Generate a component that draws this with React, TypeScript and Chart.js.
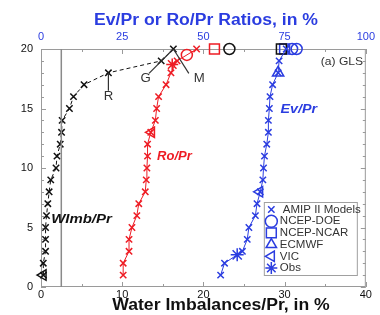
import React, { useEffect, useRef } from 'react';
import { Chart, registerables } from 'chart.js';

Chart.register(...registerables);

// ---- data ----
const levels = [1, 2, 3, 4, 5, 6, 7, 8, 9, 10, 11, 12, 13, 14, 15, 16, 17, 18, 19, 20];
// Water imbalance / Pr (bottom axis, %)
const wimbModels = [0.3, 0.28, 0.56, 0.56, 0.56, 0.68, 0.84, 1.0, 1.2, 1.85, 1.97, 2.37, 2.53, 2.6, 3.5, 4.0, 5.3, 8.3, 14.8, 16.3];
// Runoff / Pr (top axis, %)
const roModels = [25.3, 25.3, 27.1, 27.1, 28.0, 29.5, 30.1, 32.1, 32.4, 32.6, 32.8, 32.8, 33.8, 35.2, 35.6, 36.2, 38.5, 40.0, 41.9, 47.9];
// Evaporation / Pr (top axis, %)
const evModels = [55.3, 56.5, 62.0, 63.5, 64.0, 66.0, 66.5, 67.5, 68.3, 68.5, 68.8, 69.5, 70.0, 70.0, 70.3, 70.5, 71.3, 73.0, 73.3, 75.5];

// reanalyses / obs markers  [x, y]
const wimbNcepDoe = [[23.2, 20]];
const wimbNcepNcar = [[29.6, 20]];
const wimbVic = [[0.25, 1]];
const roNcepDoe = [[44.9, 19.5]];
const roNcepNcar = [[53.4, 20]];
const roVic = [[34.0, 13]];
const roObs = [[40.4, 18.7]];
const evNcepDoe = [[77.3, 20], [78.7, 20]];
const evNcepNcar = [[75.0, 20]];
const evEcmwf = [[73.0, 18]];
const evVic = [[67.3, 8]];
const evObs = [[60.4, 2.7]];

const xTicksBottom = [0, 10, 20, 30, 40];
const xTicksTop = [0, 25, 50, 75, 100];
const yTicks = [0, 5, 10, 15, 20];

const legendLabels = ['AMIP II Models', 'NCEP-DOE', 'NCEP-NCAR', 'ECMWF', 'VIC', 'Obs'];
const legendStyles = ['crossRot', 'circle', 'rect', 'triangle', 'triangleLeft', 'star'];

const bottomTitle = 'Water Imbalances/Pr, in %';
const topTitle = 'Ev/Pr or Ro/Pr Ratios, in %';

const FONT = '"Liberation Sans", Arial, Helvetica, sans-serif';
const BLUE = '#2b3de0';
const RED = '#ee1c24';
const BLACK = '#111111';
const GRAY = '#9a9a9a';
const SX = 1.1; // horizontal stretch of the original figure's lettering

const pts = (arr: number[][]) => arr.map(([x, y]) => ({ x, y }));

function drawMarker(ctx: CanvasRenderingContext2D, style: string, x: number, y: number, r: number, color: string) {
  ctx.save();
  ctx.strokeStyle = color;
  ctx.lineWidth = 1.5;
  ctx.translate(x, y);
  ctx.beginPath();
  if (style === 'crossRot') {
    const d = r * 0.707;
    ctx.moveTo(-d, -d); ctx.lineTo(d, d); ctx.moveTo(-d, d); ctx.lineTo(d, -d);
  } else if (style === 'circle') {
    ctx.arc(0, 0, r, 0, Math.PI * 2);
  } else if (style === 'rect') {
    const s = r * 0.707;
    ctx.rect(-s, -s, 2 * s, 2 * s);
  } else if (style === 'triangle' || style === 'triangleLeft') {
    if (style === 'triangleLeft') ctx.rotate(-Math.PI / 2);
    ctx.moveTo(0, -r); ctx.lineTo(r * 0.866, r * 0.5); ctx.lineTo(-r * 0.866, r * 0.5); ctx.closePath();
  } else if (style === 'star') {
    const d = r * 0.707;
    ctx.moveTo(-r, 0); ctx.lineTo(r, 0); ctx.moveTo(0, -r); ctx.lineTo(0, r);
    ctx.moveTo(-d, -d); ctx.lineTo(d, d); ctx.moveTo(-d, d); ctx.lineTo(d, -d);
  }
  ctx.stroke();
  ctx.restore();
}

function stretchedText(ctx: CanvasRenderingContext2D, text: string, x: number, y: number, align: CanvasTextAlign, sx = SX) {
  ctx.save();
  ctx.translate(x, y);
  ctx.scale(sx, 1);
  ctx.textAlign = align;
  ctx.textBaseline = 'middle';
  ctx.fillText(text, 0, 0);
  ctx.restore();
}

const framePlugin = {
  id: 'frameAndNotes',
  beforeDatasetsDraw(chart: any) {
    const { ctx, chartArea: a, scales } = chart;
    ctx.save();
    ctx.strokeStyle = GRAY;
    ctx.lineWidth = 1;
    ctx.strokeRect(a.left + 0.5, a.top + 0.5, a.right - a.left - 1, a.bottom - a.top - 1);
    for (let v = 0; v <= 20; v++) {
      const py = Math.round(scales.y.getPixelForValue(v)) + 0.5;
      const len = v % 5 === 0 ? 5 : 3;
      ctx.beginPath();
      ctx.moveTo(a.left, py); ctx.lineTo(a.left + len, py);
      ctx.moveTo(a.right, py); ctx.lineTo(a.right - len, py);
      ctx.stroke();
    }
    for (let v = 0; v <= 40; v += 5) {
      const px = Math.round(scales.x.getPixelForValue(v)) + 0.5;
      const len = v % 10 === 0 ? 5 : 3;
      ctx.beginPath();
      ctx.moveTo(px, a.bottom); ctx.lineTo(px, a.bottom - len);
      ctx.moveTo(px, a.top); ctx.lineTo(px, a.top + len);
      ctx.stroke();
    }
    ctx.restore();
  },
  afterDatasetsDraw(chart: any) {
    const { ctx, chartArea: a, scales } = chart;
    const X = (v: number) => scales.x.getPixelForValue(v);
    const Y = (v: number) => scales.y.getPixelForValue(v);
    ctx.save();

    // axis titles
    ctx.font = `bold 16px ${FONT}`;
    ctx.fillStyle = BLACK;
    stretchedText(ctx, bottomTitle, 221, 306, 'center');
    ctx.fillStyle = BLUE;
    stretchedText(ctx, topTitle, 206, 21, 'center');

    // series labels
    ctx.font = `italic bold 13px ${FONT}`;
    ctx.fillStyle = BLACK;
    stretchedText(ctx, 'WImb/Pr', X(1.25), Y(5.7), 'left', 1.15);
    ctx.fillStyle = RED;
    stretchedText(ctx, 'Ro/Pr', X(14.3), Y(11.0), 'left', 1.0);
    ctx.fillStyle = BLUE;
    stretchedText(ctx, 'Ev/Pr', X(29.5), Y(14.9), 'left');
    ctx.font = `11px ${FONT}`;
    ctx.fillStyle = '#333';
    stretchedText(ctx, '(a) GLS', X(34.45), Y(18.9), 'left');
    ctx.font = `12px ${FONT}`;
    stretchedText(ctx, 'R', X(8.3), Y(16.0), 'center');
    stretchedText(ctx, 'G', X(12.9), Y(17.5), 'center');
    stretchedText(ctx, 'M', X(19.5), Y(17.5), 'center');

    // legend box
    const lx = a.right - 102, ly = a.bottom - 85, lw = 93, lh = 73;
    ctx.fillStyle = '#ffffff';
    ctx.fillRect(lx, ly, lw, lh);
    ctx.strokeStyle = '#a0a0a0';
    ctx.lineWidth = 1;
    ctx.strokeRect(lx + 0.5, ly + 0.5, lw, lh);
    ctx.font = `10px ${FONT}`;
    ctx.fillStyle = '#333';
    legendLabels.forEach((lab, i) => {
      const cy = ly + 7.5 + i * 11.7;
      const st = legendStyles[i];
      const r = st === 'crossRot' ? 4.5 : st === 'rect' ? 7 : 6;
      drawMarker(ctx, st, lx + 7.5, cy, r, BLUE);
      stretchedText(ctx, lab, lx + (i === 0 ? 19 : 16), cy + 0.5, 'left', 1.15);
    });
    ctx.restore();
  },
};

const markerSet = (label: string, data: number[][], style: string, color: string, axis: string, radius: number, rotation = 0) => ({
  label,
  data: pts(data),
  xAxisID: axis,
  yAxisID: 'y',
  showLine: false,
  pointStyle: style,
  pointRotation: rotation,
  pointRadius: radius,
  pointBorderColor: color,
  pointBackgroundColor: 'rgba(0,0,0,0)',
  pointBorderWidth: 1.5,
  clip: false,
});

const seriesSet = (label: string, xs: number[], color: string, axis: string, dash: number[]) => ({
  label,
  data: levels.map((y, i) => ({ x: xs[i], y })),
  xAxisID: axis,
  yAxisID: 'y',
  showLine: true,
  borderColor: color,
  borderWidth: 1,
  borderDash: dash,
  pointStyle: 'crossRot',
  pointRadius: 4.5,
  pointBorderColor: color,
  pointBackgroundColor: 'rgba(0,0,0,0)',
  pointBorderWidth: 1.5,
  clip: false,
});

const lineSet = (label: string, data: number[][], color: string, width: number) => ({
  label,
  data: pts(data),
  xAxisID: 'x',
  yAxisID: 'y',
  showLine: true,
  borderColor: color,
  borderWidth: width,
  pointRadius: 0,
  clip: false,
});

export default function App() {
  const ref = useRef<HTMLCanvasElement | null>(null);
  useEffect(() => {
    if (!ref.current) return;
    const chart = new Chart(ref.current, {
      type: 'scatter',
      data: {
        datasets: [
          lineSet('ref', [[2.5, 0], [2.5, 20]], '#8a8a8a', 1.5),
          lineSet('R', [[8.3, 18], [8.3, 16.5]], '#333', 1.2),
          lineSet('G', [[16.3, 20], [13.3, 17.95]], '#333', 1.2),
          lineSet('M', [[16.3, 20], [18.2, 17.95]], '#333', 1.2),
          seriesSet('WImb', wimbModels, BLACK, 'x', [4, 3]),
          seriesSet('Ro', roModels, RED, 'x2', []),
          seriesSet('Ev', evModels, BLUE, 'x2', []),
          markerSet('wimbDoe', wimbNcepDoe, 'circle', BLACK, 'x', 5.5),
          markerSet('wimbNcar', wimbNcepNcar, 'rect', BLACK, 'x', 7),
          markerSet('wimbVic', wimbVic, 'triangle', BLACK, 'x', 6, -90),
          markerSet('roDoe', roNcepDoe, 'circle', RED, 'x2', 5.5),
          markerSet('roNcar', roNcepNcar, 'rect', RED, 'x2', 7),
          markerSet('roVic', roVic, 'triangle', RED, 'x2', 6, -90),
          markerSet('roObs', roObs, 'star', RED, 'x2', 6),
          markerSet('evDoe', evNcepDoe, 'circle', BLUE, 'x2', 5.5),
          markerSet('evNcar', evNcepNcar, 'rect', BLUE, 'x2', 7),
          markerSet('evEcmwf', evEcmwf, 'triangle', BLUE, 'x2', 6.5),
          markerSet('evVic', evVic, 'triangle', BLUE, 'x2', 6, -90),
          markerSet('evObs', evObs, 'star', BLUE, 'x2', 6.5),
        ] as any,
      },
      options: {
        animation: false,
        responsive: false,
        devicePixelRatio: 1,
        layout: { padding: { left: 0, right: 7, top: 0, bottom: 0 } },
        plugins: { legend: { display: false }, tooltip: { enabled: false } },
        scales: {
          x: {
            type: 'linear',
            position: 'bottom',
            min: 0,
            max: 40,
            afterFit: (s: any) => { s.height = 28; },
            afterBuildTicks: (s: any) => { s.ticks = xTicksBottom.map((v) => ({ value: v })); },
            grid: { display: false, drawTicks: false },
            border: { display: false },
            ticks: { padding: 1, color: BLACK, font: { family: FONT, size: 11 } },
            title: { display: false },
          },
          x2: {
            type: 'linear',
            position: 'top',
            min: 0,
            max: 100,
            afterFit: (s: any) => { s.height = 49; },
            afterBuildTicks: (s: any) => { s.ticks = xTicksTop.map((v) => ({ value: v })); },
            grid: { display: false, drawTicks: false },
            border: { display: false },
            ticks: { padding: 5, color: BLUE, font: { family: FONT, size: 11 } },
            title: { display: false },
          },
          y: {
            type: 'linear',
            position: 'left',
            min: 0,
            max: 20,
            afterFit: (s: any) => { s.width = 41; },
            afterBuildTicks: (s: any) => { s.ticks = yTicks.map((v) => ({ value: v })); },
            grid: { display: false, drawTicks: false },
            border: { display: false },
            ticks: { padding: 8, color: BLACK, font: { family: FONT, size: 11 } },
          },
        },
      } as any,
      plugins: [framePlugin],
    });
    return () => chart.destroy();
  }, []);
  return (
    <div style={{ position: 'fixed', left: 0, top: 0, width: 380, height: 315, background: '#ffffff' }}>
      <canvas ref={ref} width={380} height={315} style={{ display: 'block', width: 380, height: 315 }} />
    </div>
  );
}
